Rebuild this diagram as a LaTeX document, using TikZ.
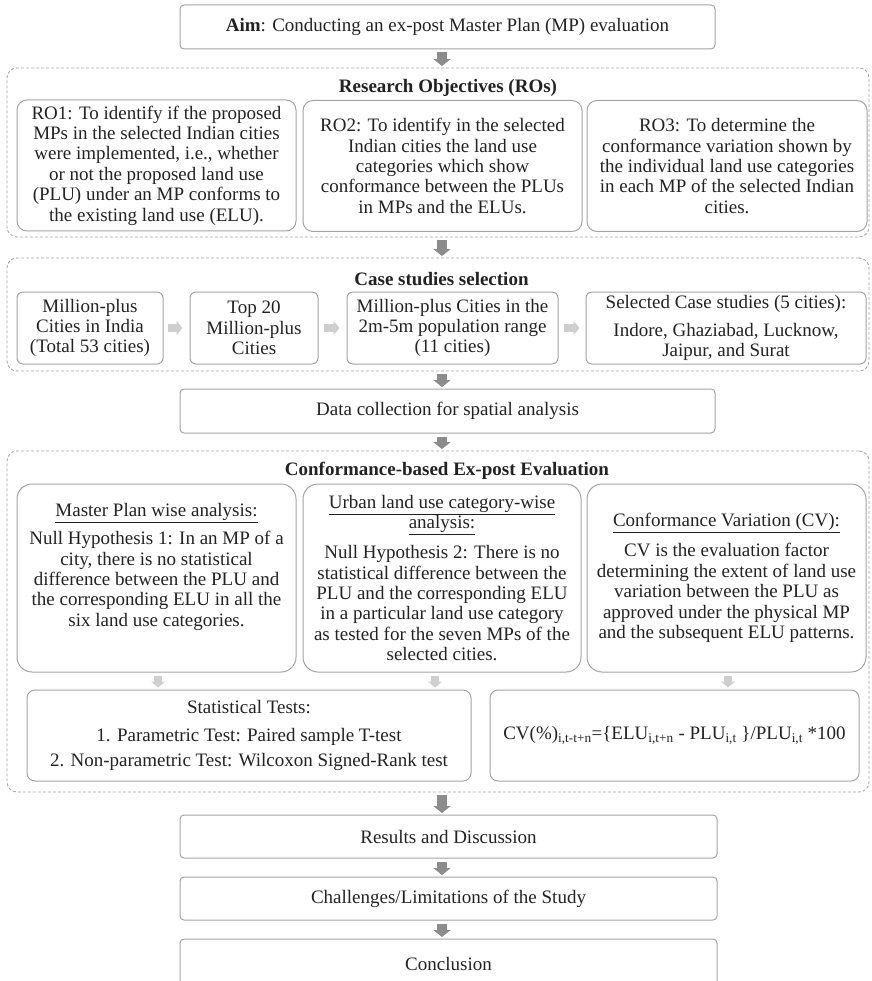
\documentclass[tikz,border=0pt]{standalone}
\usepackage{fontspec}
\setmainfont{Liberation Serif}
\usetikzlibrary{arrows.meta}

\definecolor{txt}{HTML}{222222}
\definecolor{boxgray}{HTML}{A3A3A3}
\definecolor{framegray}{HTML}{A8A8A8}
\definecolor{arrgray}{HTML}{8C8C8C}
\definecolor{lightarr}{HTML}{CFCFCF}

\tikzset{
  rbox/.style={draw=boxgray, line width=1pt, rounded corners=#1, align=center, inner sep=0pt},
  rbox/.default=5pt,
  groupframe/.style={draw=framegray, line width=0.9pt, dash pattern=on 3pt off 2pt, rounded corners=10pt, inner sep=0pt},
  heading/.style={font=\fontsize{19}{20.4}\selectfont\bfseries},
  darr/.style={draw=arrgray, line width=10pt, -{Triangle[width=17pt,length=7pt]}, shorten <=3pt, shorten >=1.5pt},
  larr/.style={draw=lightarr, line width=8pt, -{Triangle[width=14pt,length=6pt]}},
}

\begin{document}
\begin{tikzpicture}[x=1pt, y=-1pt, font=\fontsize{19}{20.4}\selectfont, text=txt]
  \clip (0,0) rectangle (871,981);
  %\draw[help lines] (0,0) grid (871,981);
  \coordinate (axis) at (442,0);

  % aim
  \node[rbox=4pt, minimum width=535pt, minimum height=44pt] (aim) at (447.5,27) {\textbf{Aim}: Conducting an ex-post Master Plan (MP) evaluation};

  % research objectives
  \node[groupframe, minimum width=862pt, minimum height=169pt] (ro) at (438,152.5) {};
  \node[heading] (rotitle) at (448,88) {Research Objectives (ROs)};
  \node[rbox=10pt, minimum width=279pt, minimum height=131pt] (ro1) at (156.5,165.5) {RO1: To identify if the proposed\\MPs in the selected Indian cities\\were implemented, i.e., whether\\or not the proposed land use\\(PLU) under an MP conforms to\\the existing land use (ELU).};
  \node[rbox=10pt, minimum width=279pt, minimum height=131pt] (ro2) at (442.5,166) {RO2: To identify in the selected\\Indian cities the land use\\categories which show\\conformance between the PLUs\\in MPs and the ELUs.};
  \node[rbox=10pt, minimum width=280pt, minimum height=131pt] (ro3) at (727,166) {RO3: To determine the\\conformance variation shown by\\the individual land use categories\\in each MP of the selected Indian\\cities.};

  % case studies
  \node[groupframe, minimum width=862pt, minimum height=113pt] (cs) at (438,314.5) {};
  \node[heading] (cstitle) at (441.5,279) {Case studies selection};
  \node[rbox=6pt, minimum width=146pt, minimum height=72pt] (c1) at (90,328) {Million-plus\\Cities in India\\(Total 53 cities)};
  \node[rbox=6pt, minimum width=128pt, minimum height=72pt] (c2) at (254,328) {Top 20\\Million-plus\\Cities};
  \node[rbox=6pt, minimum width=211pt, minimum height=72pt] (c3) at (452.5,328) {Million-plus Cities in the\\2m-5m population range\\(11 cities)};
  \node[rbox=6pt, minimum width=280pt, minimum height=72pt] (c4) at (726,328) {Selected Case studies (5 cities):\\[7pt]Indore, Ghaziabad, Lucknow,\\Jaipur, and Surat};
  \draw[larr, shorten <=4pt, shorten >=7pt] (c1.east) -- (c2.west);
  \draw[larr, shorten <=5pt, shorten >=7pt] (c2.east) -- (c3.west);
  \draw[larr, shorten <=5pt, shorten >=6pt] (c3.east) -- (c4.west);

  % data
  \node[rbox=4pt, minimum width=535pt, minimum height=44pt] (data) at (447.5,411) {Data collection for spatial analysis};

  % evaluation
  \node[groupframe, minimum width=862pt, minimum height=341pt] (ev) at (438,621.5) {};
  \node[heading] (evtitle) at (447,471) {Conformance-based Ex-post Evaluation};
  \node[rbox=15pt, minimum width=279pt, minimum height=188pt] (e1) at (156.5,578) {\underline{Master Plan wise analysis:}\\[8pt]Null Hypothesis 1: In an MP of a\\city, there is no statistical\\difference between the PLU and\\the corresponding ELU in all the\\six land use categories.\\[6pt]\mbox{}};
  \node[rbox=15pt, minimum width=278pt, minimum height=188pt] (e2) at (442,578) {\underline{Urban land use category-wise}\\\underline{analysis:}\\[9.5pt]Null Hypothesis 2: There is no\\statistical difference between the\\PLU and the corresponding ELU\\in a particular land use category\\as tested for the seven MPs of the\\selected cities.};
  \node[rbox=15pt, minimum width=279pt, minimum height=188pt] (e3) at (726.5,578) {\underline{Conformance Variation (CV):}\\[9.5pt]CV is the evaluation factor\\determining the extent of land use\\variation between the PLU as\\approved under the physical MP\\and the subsequent ELU patterns.};
  \node[rbox=8pt, minimum width=444pt, minimum height=91pt] (stat) at (249,735.5) {Statistical Tests:\\[7.5pt]1. Parametric Test: Paired sample T-test\\[5.5pt]2. Non-parametric Test: Wilcoxon Signed-Rank test};
  \node[rbox=8pt, minimum width=369pt, minimum height=91pt] (cv) at (674.5,735.5) {CV(\%)\textsubscript{i,t-t+n}=\{ELU\textsubscript{i,t+n} - PLU\textsubscript{i,t} \}/PLU\textsubscript{i,t} *100};
  \draw[larr, shorten <=3pt, shorten >=2pt] ([xshift=1.5pt]e1.south) -- ([xshift=1.5pt]e1.south |- stat.north);
  \draw[larr, shorten <=3pt, shorten >=2pt] ([xshift=-7pt]e2.south) -- ([xshift=-7pt]e2.south |- stat.north);
  \draw[larr, shorten <=3pt, shorten >=2pt] ([xshift=1.5pt]e3.south) -- ([xshift=1.5pt]e3.south |- cv.north);

  % results
  \node[rbox=4pt, minimum width=537pt, minimum height=43pt] (res) at (448.5,836.5) {Results and Discussion};
  \node[rbox=4pt, minimum width=537pt, minimum height=43pt] (chal) at (448.5,898.5) {Challenges/Limitations of the Study};
  \node[rbox=4pt, minimum width=537pt, minimum height=50pt] (concl) at (448.5,964) {Conclusion};

  % main flow
  \draw[darr] (aim.south -| axis) -- (ro.north -| axis);
  \draw[darr] (ro.south -| axis) -- (cs.north -| axis);
  \draw[darr] (cs.south -| axis) -- (data.north -| axis);
  \draw[darr] (data.south -| axis) -- (ev.north -| axis);
  \draw[darr] (ev.south -| axis) -- (res.north -| axis);
  \draw[darr] (res.south -| axis) -- (chal.north -| axis);
  \draw[darr] (chal.south -| axis) -- (concl.north -| axis);
\end{tikzpicture}
\end{document}
